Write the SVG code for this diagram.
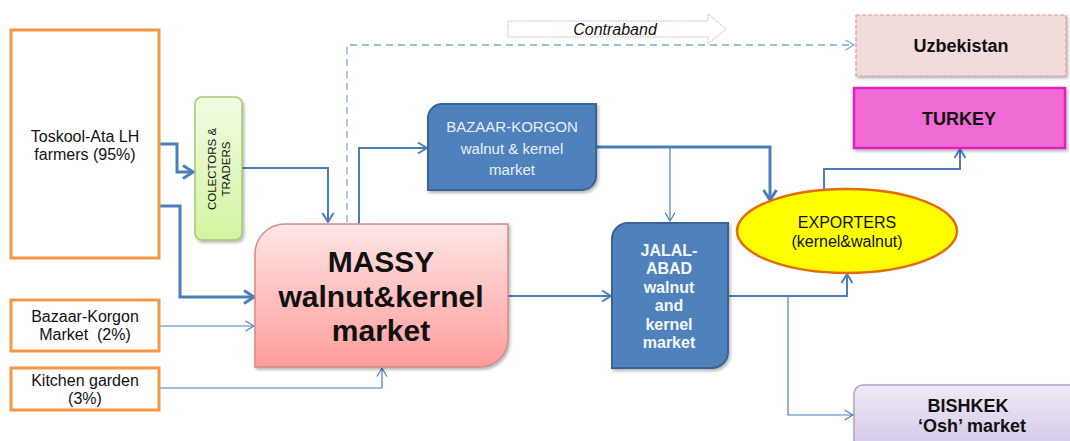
<svg xmlns="http://www.w3.org/2000/svg" width="1070" height="441" viewBox="0 0 1070 441">
<style>
.src{fill:#fff;stroke:#F79646;stroke-width:3}
.t{font-family:"Liberation Sans",Arial,sans-serif;fill:#111}
.c{stroke:#4A7EBB;fill:none;stroke-linejoin:miter}
.w3{stroke-width:3}
.w2{stroke-width:2}
.w1{stroke-width:1.2}
.blue{fill:#4F81BD;stroke:#3A6496;stroke-width:2}
</style>
<defs>
<linearGradient id="gMassy" x1="0" y1="0" x2="0" y2="1"><stop offset="0" stop-color="#FFE6E6"/><stop offset="1" stop-color="#FF9C9C"/></linearGradient>
<linearGradient id="gCol" x1="0" y1="0" x2="0" y2="1"><stop offset="0" stop-color="#F1FBE2"/><stop offset="1" stop-color="#D4F4A2"/></linearGradient>
<linearGradient id="gBish" x1="0" y1="0" x2="0" y2="1"><stop offset="0" stop-color="#F0EAF7"/><stop offset="1" stop-color="#CDBFE2"/></linearGradient>
<filter id="sh" x="-10%" y="-10%" width="130%" height="130%"><feDropShadow dx="1.5" dy="2" stdDeviation="1.5" flood-color="#000" flood-opacity="0.3"/></filter>
<marker id="a3" markerUnits="userSpaceOnUse" viewBox="0 0 13 16" refX="11.5" refY="8" markerWidth="13" markerHeight="16" orient="auto"><path d="M1.5,1.5 L11.5,8 L1.5,14.5" fill="none" stroke="#4A7EBB" stroke-width="3"/></marker>
<marker id="a2" markerUnits="userSpaceOnUse" viewBox="0 0 11 14" refX="10" refY="7" markerWidth="11" markerHeight="14" orient="auto"><path d="M1,1.5 L10,7 L1,12.5" fill="none" stroke="#4A7EBB" stroke-width="2"/></marker>
<marker id="a1" markerUnits="userSpaceOnUse" viewBox="0 0 10 12" refX="9.5" refY="6" markerWidth="10" markerHeight="12" orient="auto"><path d="M1,1 L9.5,6 L1,11" fill="none" stroke="#4A7EBB" stroke-width="1.2"/></marker>
<marker id="ad" markerUnits="userSpaceOnUse" viewBox="0 0 10 12" refX="9.5" refY="6" markerWidth="10" markerHeight="12" orient="auto"><path d="M1,1 L9.5,6 L1,11" fill="none" stroke="#7FA6D6" stroke-width="1.2"/></marker>
</defs>

<g id="connectors">
<path class="c w3" d="M159,144 H177 V172 H193" marker-end="url(#a3)"/>
<path class="c w3" d="M159,206 H180 V297 H254" marker-end="url(#a3)"/>
<path class="c w2" d="M242,168 H328 V222" marker-end="url(#a2)"/>
<path class="c w1" d="M159,326 H254" marker-end="url(#a1)"/>
<path class="c w1" d="M159,388 H382 V368" marker-end="url(#a1)"/>
<path d="M347,222 V45 H854" fill="none" stroke="#7FA6D6" stroke-width="1.3" stroke-dasharray="7,5" marker-end="url(#ad)"/>
<path class="c w2" d="M359,224 V148 H427" marker-end="url(#a2)"/>
<path class="c w3" d="M596,147 H770 V200" marker-end="url(#a3)"/>
<path class="c w1" d="M670,147 V221" marker-end="url(#a1)"/>
<path class="c w2" d="M508,296 H611" marker-end="url(#a2)"/>
<path class="c w2" d="M728,296 H847 V274" marker-end="url(#a2)"/>
<path class="c w1" d="M788,296 V415 H853" marker-end="url(#a1)"/>
<path class="c w2" d="M824,191 V169 H960 V149" marker-end="url(#a2)"/>
</g>

<g id="contraband">
<path d="M508,21 H708 V14 L726,29 L708,44 V37 H508 Z" fill="#fff" stroke="#BBBBBB" stroke-width="1" stroke-dasharray="1.5,1"/>
<text class="t" x="615" y="35" font-size="16" font-style="italic" text-anchor="middle" fill="#222">Contraband</text>
</g>

<g id="toskool">
<rect class="src" x="11" y="30" width="148" height="228"/>
<text class="t" font-size="16" text-anchor="middle"><tspan x="85" y="142">Toskool-Ata LH</tspan><tspan x="85" y="160">farmers (95%)</tspan></text>
</g>

<g id="bazaar-market">
<rect class="src" x="11" y="300" width="148" height="51"/>
<text class="t" font-size="16" text-anchor="middle"><tspan x="85" y="322">Bazaar-Korgon</tspan><tspan x="85" y="340">Market &#160;(2%)</tspan></text>
</g>

<g id="kitchen">
<rect class="src" x="11" y="368" width="148" height="42"/>
<text class="t" font-size="16" text-anchor="middle"><tspan x="85" y="386">Kitchen garden</tspan><tspan x="85" y="404">(3%)</tspan></text>
</g>

<g id="colectors">
<rect x="195" y="97" width="47" height="143" rx="7" fill="url(#gCol)" stroke="#A8C874" stroke-width="1.5" filter="url(#sh)"/>
<text class="t" font-size="11.5" text-anchor="middle" transform="translate(216,169) rotate(-90)">COLECTORS &amp;</text>
<text class="t" font-size="11.5" text-anchor="middle" transform="translate(230,169) rotate(-90)">TRADERS</text>
</g>

<g id="massy">
<path d="M285,224 H508 V339 A28,28 0 0 1 480,367 H255 V254 A30,30 0 0 1 285,224 Z" fill="url(#gMassy)" stroke="#D48A88" stroke-width="1.5" filter="url(#sh)"/>
<text class="t" font-size="30" font-weight="bold" text-anchor="middle"><tspan x="381" y="272">MASSY</tspan><tspan x="381" y="307">walnut&amp;kernel</tspan><tspan x="381" y="341">market</tspan></text>
</g>

<g id="bazaar-korgon">
<path class="blue" d="M442,104 H596 V176 A14,14 0 0 1 582,190 H428 V118 A14,14 0 0 1 442,104 Z" filter="url(#sh)"/>
<text class="t" font-size="15" text-anchor="middle" style="fill:#E8EEF7"><tspan x="512" y="132">BAZAAR-KORGON</tspan><tspan x="512" y="154">walnut &amp; kernel</tspan><tspan x="512" y="175">market</tspan></text>
</g>

<g id="jalal-abad">
<path class="blue" d="M628,223 H728 V352 A16,16 0 0 1 712,368 H612 V239 A16,16 0 0 1 628,223 Z" filter="url(#sh)"/>
<text class="t" font-size="16" font-weight="bold" text-anchor="middle" style="fill:#F4F7FB"><tspan x="669" y="256">JALAL-</tspan><tspan x="669" y="274">ABAD</tspan><tspan x="669" y="293">walnut</tspan><tspan x="669" y="311">and</tspan><tspan x="669" y="330">kernel</tspan><tspan x="669" y="348">market</tspan></text>
</g>

<g id="exporters">
<ellipse cx="847" cy="231" rx="110" ry="42" fill="#FFFF00" stroke="#E36C09" stroke-width="2.5"/>
<text class="t" font-size="16" text-anchor="middle"><tspan x="847" y="228">EXPORTERS</tspan><tspan x="847" y="247">(kernel&amp;walnut)</tspan></text>
</g>

<g id="uzbekistan">
<rect x="856" y="15" width="210" height="61" fill="#F2DCDB" stroke="#DC9A98" stroke-width="1.2" stroke-dasharray="4,2" filter="url(#sh)"/>
<text class="t" x="961" y="52" font-size="18" font-weight="bold" text-anchor="middle">Uzbekistan</text>
</g>

<g id="turkey">
<rect x="854" y="88" width="211" height="60" fill="#F06CD4" stroke="#E021BE" stroke-width="2.5" filter="url(#sh)"/>
<text class="t" x="959" y="125" font-size="18" font-weight="bold" text-anchor="middle">TURKEY</text>
</g>

<g id="bishkek">
<rect x="854" y="385" width="232" height="80" rx="9" fill="url(#gBish)" stroke="#B3A2C7" stroke-width="1.5" filter="url(#sh)"/>
<text class="t" font-size="18" font-weight="bold" text-anchor="middle"><tspan x="968" y="412">BISHKEK</tspan><tspan x="972" y="432">‘Osh’ market</tspan></text>
</g>
</svg>
